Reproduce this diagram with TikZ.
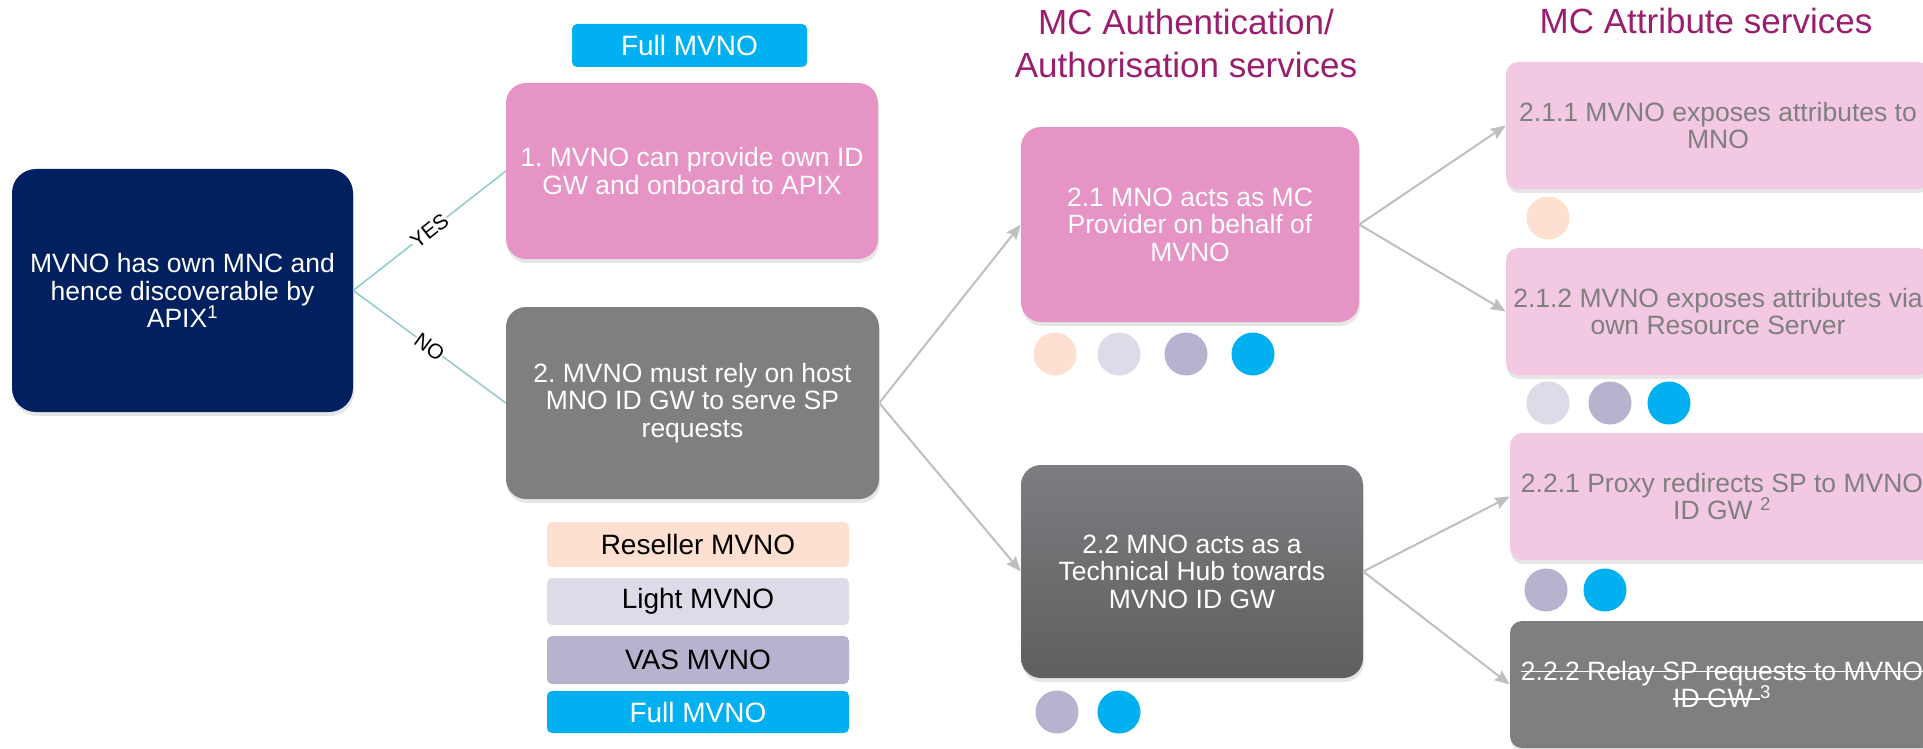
\documentclass[tikz,border=0pt]{standalone}
\usepackage{fontspec}
\setmainfont{Liberation Sans}
\usepackage{xcolor}
\usetikzlibrary{calc,shadows,arrows.meta}

\definecolor{navy}{HTML}{002060}
\definecolor{mcpink}{HTML}{E693C6}
\definecolor{mcpale}{HTML}{F2C8E2}
\definecolor{mcgray}{HTML}{7F7F7F}
\definecolor{mcpurple}{HTML}{9B1E6E}
\definecolor{reseller}{HTML}{FDE0CF}
\definecolor{lightmv}{HTML}{DCDCE8}
\definecolor{vasmv}{HTML}{B6B3CE}
\definecolor{fullmv}{HTML}{00B0F0}
\definecolor{linkteal}{HTML}{8CCBCB}
\definecolor{arrgray}{HTML}{BFBFBF}

% struck-through text
\newsavebox\mvstrikebox
\newcommand\mvstrike[1]{\sbox\mvstrikebox{#1}\rlap{\usebox\mvstrikebox}\rule[0.3em]{\wd\mvstrikebox}{1.5pt}}

\begin{document}
\frenchspacing
\begin{tikzpicture}[x=1pt,y=-1pt,
	box/.style={rounded corners=20pt,text=white,align=center,inner sep=0pt,
		font=\fontsize{26.5}{27.5}\selectfont,
		drop shadow={shadow xshift=1pt,shadow yshift=-4pt,opacity=0.2}},
	attr/.style={box,rounded corners=12pt,minimum width=424pt,minimum height=127pt},
	tag/.style={rounded corners=5pt,inner sep=0pt,minimum width=302pt,
		font=\fontsize{28}{30}\selectfont},
	head/.style={text=mcpurple,align=center,font=\fontsize{35}{43}\selectfont},
	mvdot/.style={circle,inner sep=0pt,minimum size=43pt},
	link/.style={linkteal,line width=1.5pt},
	conn/.style={arrgray,line width=2pt,-{Stealth[length=15pt,width=12pt,inset=2pt]}},
	yesno/.style={fill=white,text=black,inner sep=0.5pt,font=\fontsize{21}{22}\selectfont}]
			% page frame
			\useasboundingbox (0,0) rectangle (1923,749);
			\clip (0,0) rectangle (1923,749);
			
			% column headings
			\node[head] (hauth) at (1186,43) {MC Authentication/\\Authorisation services};
			\node[head,anchor=base] (hattr) at (1706,34) {MC Attribute services};
			
			% decision and first level
			\node[box,fill=navy,minimum width=341pt,minimum height=243pt,rounded corners=24pt]
				(mvno) at (182.5,290.5) {MVNO has own MNC and\\hence discoverable by\\APIX\textsuperscript{1}};
			\node[tag,fill=fullmv,text=white,minimum width=235pt,minimum height=43pt]
				(fulltop) at (689.5,45.5) {Full MVNO};
			\node[box,fill=mcpink,minimum width=372pt,minimum height=176pt]
				(opt1) at (692,171) {1. MVNO can provide own ID\\GW and onboard to APIX};
			\node[box,fill=mcgray,minimum width=373pt,minimum height=192pt]
				(opt2) at (692.5,403) {2. MVNO must rely on host\\MNO ID GW to serve SP\\requests};
			
			% legend of MVNO kinds
			\node[tag,fill=reseller,minimum height=45pt] (lres) at (698,544.5) {Reseller MVNO};
			\node[tag,fill=lightmv,minimum height=47pt] (llight) at (698,601.5) {Light MVNO};
			\node[tag,fill=vasmv,minimum height=48pt] (lvas) at (698,660) {VAS MVNO};
			\node[tag,fill=fullmv,text=white,minimum height=42pt] (lfull) at (698,712) {Full MVNO};
			
			% authentication services
			\node[box,fill=mcpink,minimum width=338pt,minimum height=195pt]
				(auth21) at (1190,224.5) {2.1 MNO acts as MC\\Provider on behalf of\\MVNO};
			\node[box,top color=mcgray!98!blue,bottom color=mcgray!75!black,
				minimum width=342pt,minimum height=213pt]
				(auth22) at (1192,571.5) {2.2 MNO acts as a\\Technical Hub towards\\MVNO ID GW};
			
			% attribute services
			\node[attr,fill=mcpale,text=mcgray] (attr211) at (1718,125.5)
				{2.1.1 MVNO exposes attributes to\\MNO};
			\node[attr,fill=mcpale,text=mcgray] (attr212) at (1718,311.5)
				{2.1.2 MVNO exposes attributes via\\own Resource Server};
			\node[attr,fill=mcpale,text=mcgray] (attr221) at (1722,496.5)
				{2.2.1 Proxy redirects SP to MVNO\\ID GW \textsuperscript{2}};
			\node[attr,fill=mcgray] (attr222) at (1722,684.5)
				{\mvstrike{2.2.2 Relay SP requests to MVNO}\\\mvstrike{ID GW\ }\textsuperscript{3}};
			
			% coloured dots
			\foreach \cx/\cy/\cc [count=\i] in {1055/354/reseller,1119/354/lightmv,
				1186/354/vasmv,1253/354/fullmv,1057/712/vasmv,1119/712/fullmv,
				1548/218/reseller,1548/403/lightmv,1610/403/vasmv,1669/403/fullmv,
				1546/590/vasmv,1605/590/fullmv}
				\node[mvdot,fill=\cc] (dot\i) at (\cx,\cy) {};
			
			% connectors
			\draw[link] (mvno.east) -- node[yesno,sloped]{YES} (opt1.west);
			\draw[link] (mvno.east) -- node[yesno,sloped]{NO} (opt2.west);
			\draw[conn] (opt2.east) -- (auth21.west);
			\draw[conn] (opt2.east) -- (auth22.west);
			\draw[conn] (auth21.east) -- (attr211.west);
			\draw[conn] (auth21.east) -- (attr212.west);
			\draw[conn] (auth22.east) -- (attr221.west);
			\draw[conn] (auth22.east) -- (attr222.west);
		\end{tikzpicture}
\end{document}
